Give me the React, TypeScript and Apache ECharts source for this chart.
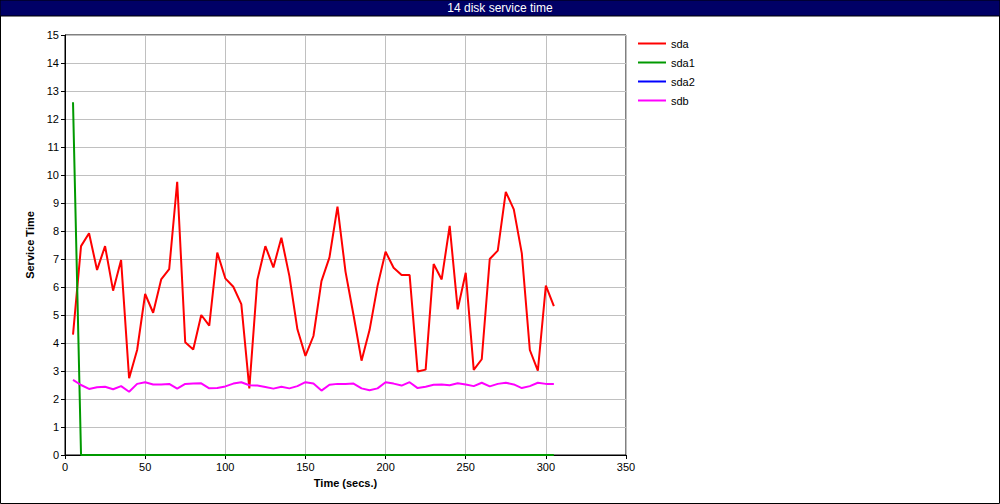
import React, { useEffect, useRef } from "react";
import * as echarts from "echarts";

const times: number[] = [];
for (let t = 5; t <= 305; t += 5) times.push(t);

const sda = [4.3, 7.46, 7.92, 6.61, 7.46, 5.87, 6.96, 2.74, 3.75, 5.75, 5.08, 6.27, 6.64, 9.76, 4.03, 3.77, 5.0, 4.62, 7.23, 6.31, 6.01, 5.39, 2.38, 6.25, 7.46, 6.7, 7.76, 6.39, 4.49, 3.54, 4.25, 6.21, 7.06, 8.87, 6.55, 5.0, 3.37, 4.46, 6.04, 7.26, 6.69, 6.43, 6.43, 2.98, 3.05, 6.82, 6.27, 8.18, 5.2, 6.51, 3.04, 3.42, 7.0, 7.3, 9.4, 8.77, 7.2, 3.75, 3.01, 6.05, 5.32];
const sda1 = [12.6, 0, 0, 0, 0, 0, 0, 0, 0, 0, 0, 0, 0, 0, 0, 0, 0, 0, 0, 0, 0, 0, 0, 0, 0, 0, 0, 0, 0, 0, 0, 0, 0, 0, 0, 0, 0, 0, 0, 0, 0, 0, 0, 0, 0, 0, 0, 0, 0, 0, 0, 0, 0, 0, 0, 0, 0, 0, 0, 0, 0];
const sda2: number[] = [];
const sdb = [2.68, 2.5, 2.36, 2.42, 2.44, 2.35, 2.46, 2.26, 2.54, 2.6, 2.52, 2.52, 2.54, 2.37, 2.54, 2.55, 2.56, 2.38, 2.39, 2.45, 2.55, 2.6, 2.49, 2.48, 2.43, 2.37, 2.44, 2.38, 2.46, 2.6, 2.55, 2.3, 2.51, 2.54, 2.54, 2.55, 2.38, 2.31, 2.38, 2.6, 2.55, 2.48, 2.6, 2.39, 2.44, 2.51, 2.52, 2.49, 2.56, 2.52, 2.46, 2.58, 2.45, 2.54, 2.58, 2.52, 2.39, 2.46, 2.58, 2.54, 2.54];

const seriesNames = ["sda", "sda1", "sda2", "sdb"];
const seriesColors = ["#ff0000", "#009900", "#0000ff", "#ff00ff"];
const seriesData = [sda, sda1, sda2, sdb];
const seriesZ = [3, 4, 2, 5];

const titleText = "14 disk service time";
const xName = "Time (secs.)";
const yName = "Service Time";

export default function App() {
  const ref = useRef<HTMLDivElement>(null);
  useEffect(() => {
    const chart = echarts.init(ref.current!, undefined, { renderer: "svg" });
    const font = "Liberation Sans, Arial, sans-serif";
    chart.setOption({
      animation: false,
      backgroundColor: "#ffffff",
      textStyle: { fontFamily: font },
      grid: { left: 65, right: 374, top: 35, bottom: 49, show: true, borderColor: "#000", borderWidth: 1 },
      legend: {
        orient: "vertical",
        left: 638,
        top: 37,
        padding: 0,
        itemWidth: 28,
        itemHeight: 2,
        itemGap: 6,
        icon: "rect",
        textStyle: { fontSize: 11, color: "#000", fontFamily: font, lineHeight: 13 },
        data: seriesNames,
      },
      xAxis: {
        type: "value",
        min: 0,
        max: 350,
        interval: 50,
        name: xName,
        nameLocation: "middle",
        nameGap: 22,
        nameTextStyle: { fontWeight: "bold", fontSize: 11, color: "#000" },
        axisLine: { show: true, lineStyle: { color: "#000" } },
        axisTick: { show: true, length: 4, lineStyle: { color: "#000" } },
        axisLabel: { fontSize: 11, color: "#000", margin: 6 },
        splitLine: { show: true, lineStyle: { color: "#c0c0c0", width: 1 } },
      },
      yAxis: {
        type: "value",
        min: 0,
        max: 15,
        interval: 1,
        name: yName,
        nameLocation: "middle",
        nameGap: 30,
        nameTextStyle: { fontWeight: "bold", fontSize: 11, color: "#000" },
        axisLine: { show: true, lineStyle: { color: "#000" } },
        axisTick: { show: true, length: 4, lineStyle: { color: "#000" } },
        axisLabel: { fontSize: 11, color: "#000", margin: 6 },
        splitLine: { show: true, lineStyle: { color: "#c0c0c0", width: 1 } },
      },
      graphic: [
        { type: "rect", shape: { x: 0.5, y: 0.5, width: 999, height: 503 }, style: { fill: "none", stroke: "#000", lineWidth: 1 }, z: 100 },
        { type: "rect", shape: { x: 0, y: 0, width: 1000, height: 16 }, style: { fill: "#000066", stroke: "#000", lineWidth: 1 }, z: 101 },
        { type: "text", x: 500, y: 8, style: { text: titleText, fill: "#fff", fontSize: 12, fontFamily: font, textAlign: "center", textVerticalAlign: "middle" }, z: 102 },
      ],
      series: seriesNames.map((name, i) => ({
        name,
        type: "line",
        data: times.slice(0, seriesData[i].length).map((t, j) => [t, seriesData[i][j]]),
        showSymbol: false,
        symbol: "none",
        z: seriesZ[i],
        color: seriesColors[i],
        lineStyle: { color: seriesColors[i], width: 2 },
      })),
    });
    return () => chart.dispose();
  }, []);
  return (
    <div style={{ position: "fixed", left: 0, top: 0 }}>
      <div ref={ref} style={{ width: 1000, height: 504 }} />
    </div>
  );
}
